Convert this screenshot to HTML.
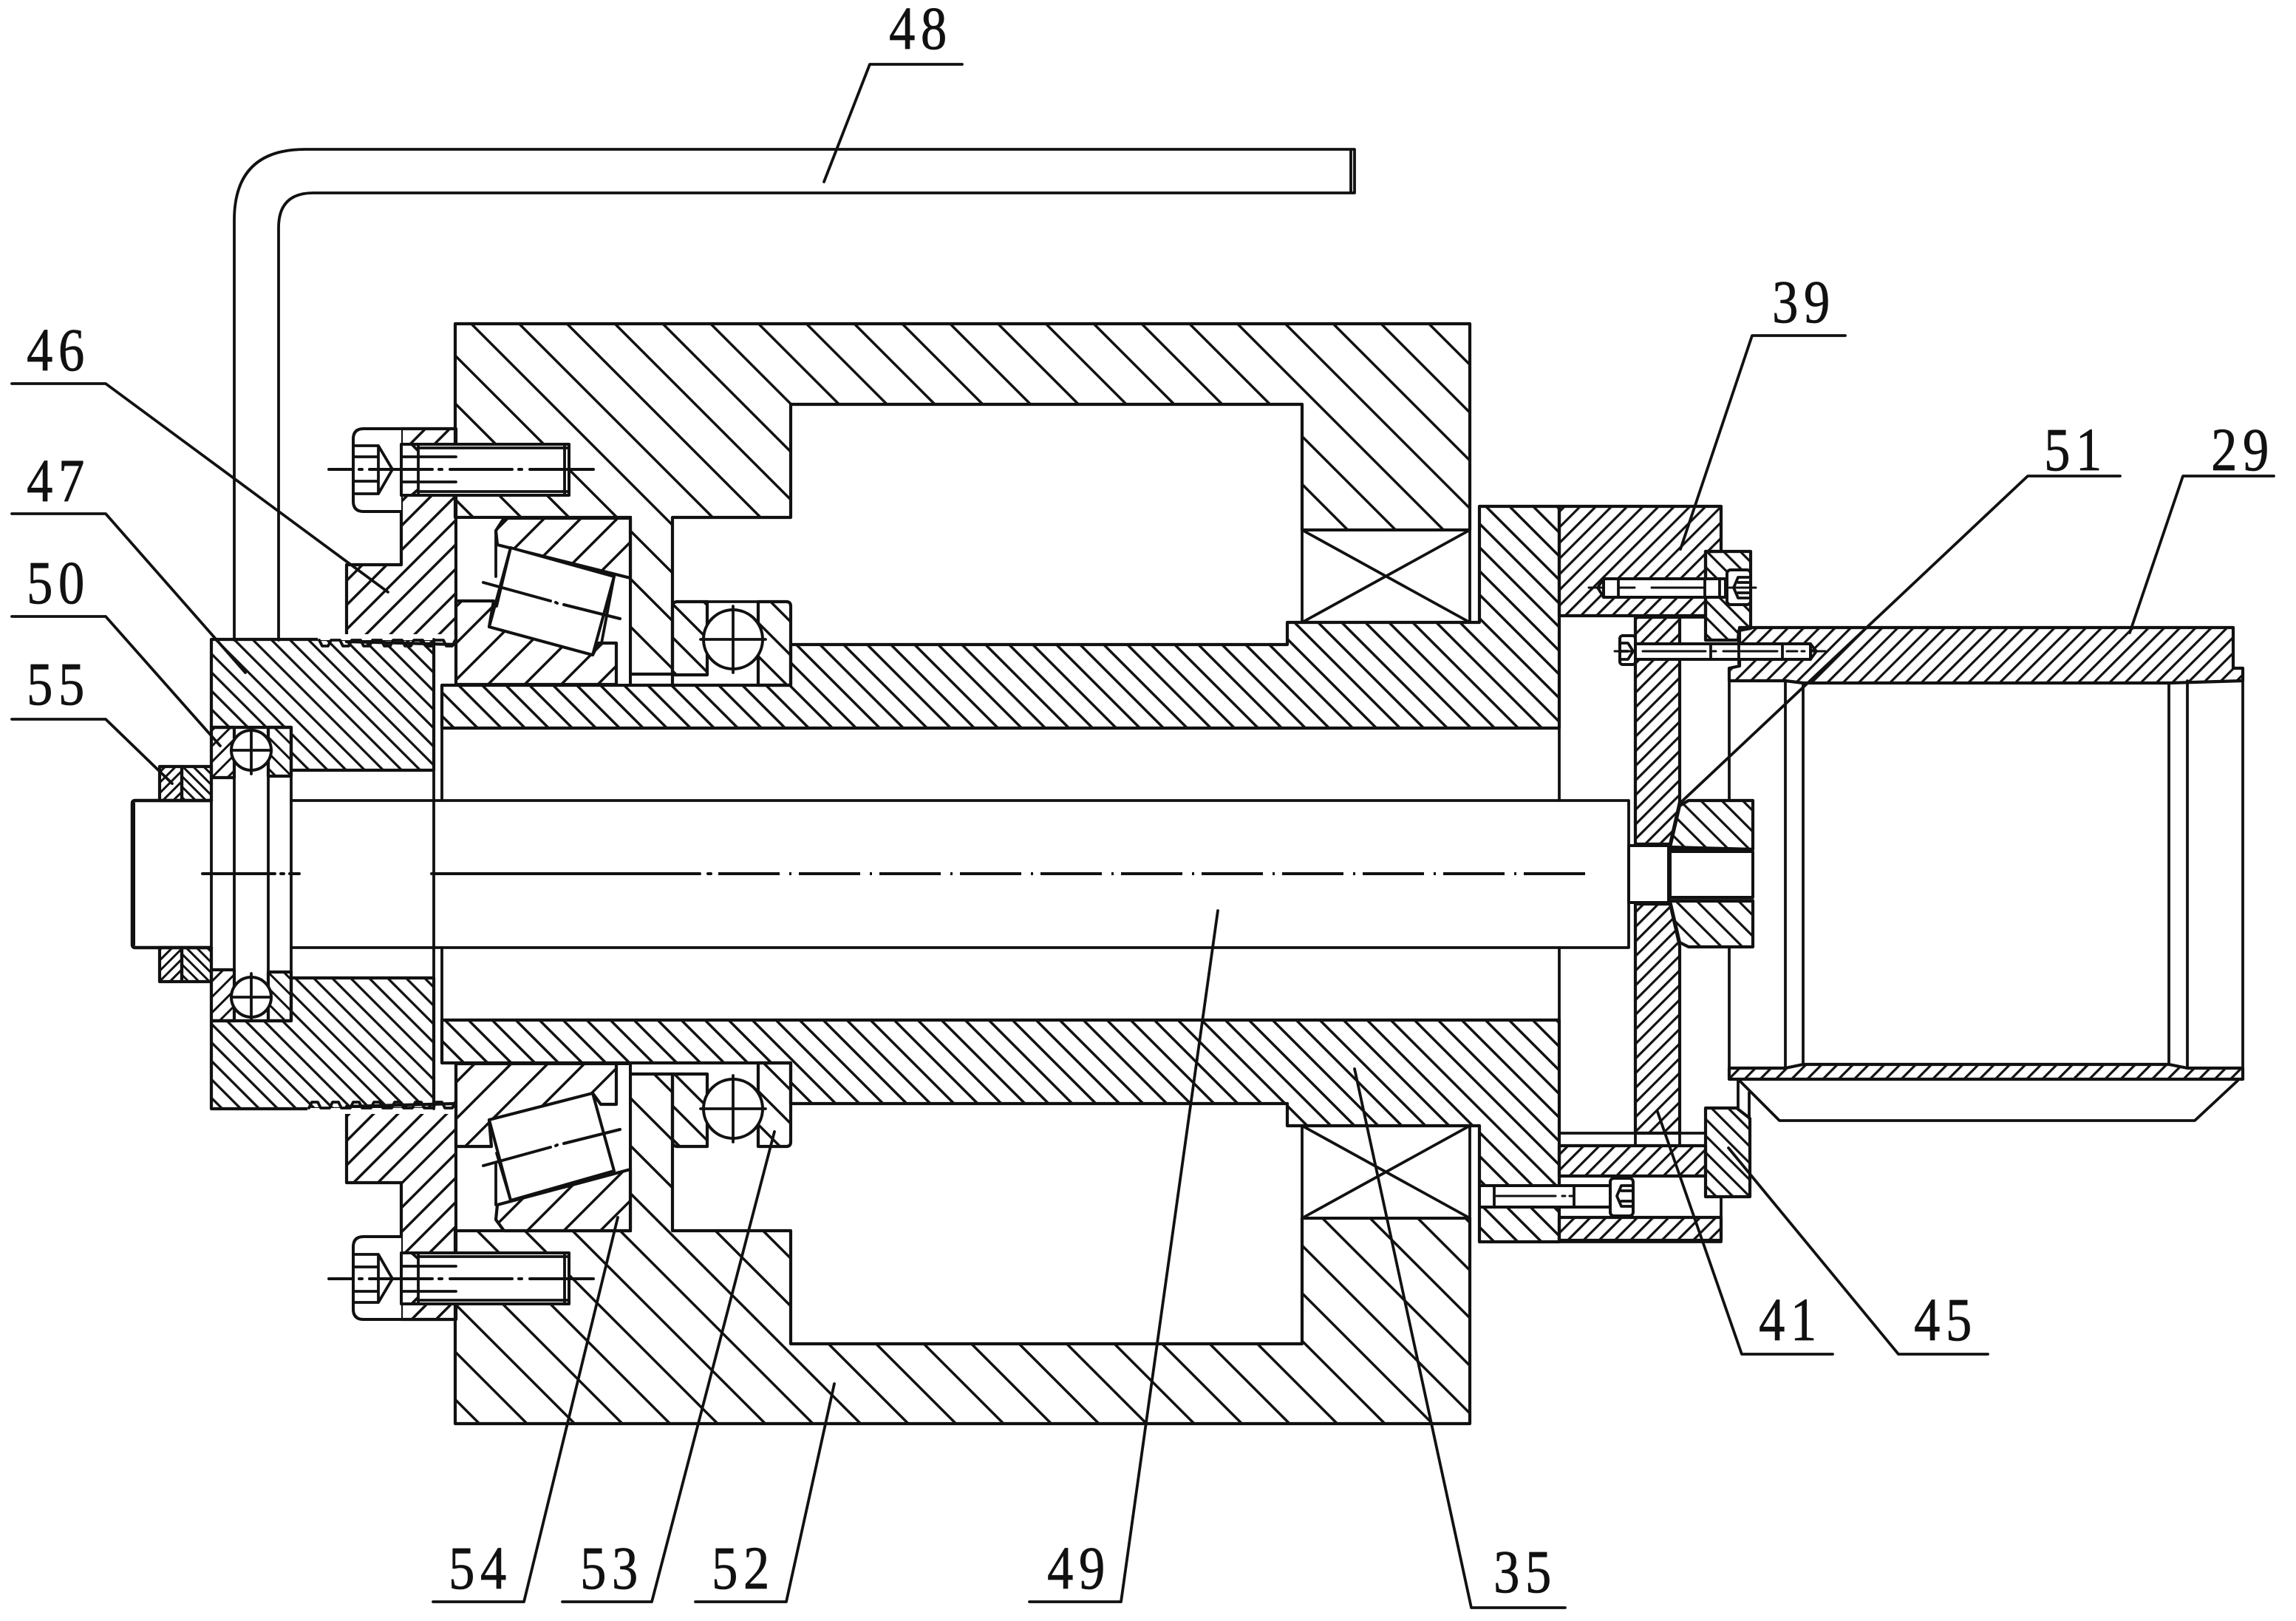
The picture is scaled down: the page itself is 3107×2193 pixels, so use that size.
<!DOCTYPE html>
<html><head><meta charset="utf-8"><style>
html,body{margin:0;padding:0;background:#fff;width:3107px;height:2193px;overflow:hidden}
svg{display:block}
text{font-family:"Liberation Serif",serif;font-size:83px;fill:#111;stroke:#111;stroke-width:.8;text-anchor:middle;letter-spacing:9px}
.o{stroke:#111;stroke-width:4.2;stroke-linejoin:round;stroke-linecap:round}
.l{fill:none;stroke:#111;stroke-width:3.8;stroke-linecap:round;stroke-linejoin:round}
.t{fill:none;stroke:#111;stroke-width:3;stroke-linecap:round}
.w{fill:#fff;stroke:#111;stroke-width:4;stroke-linejoin:round}
</style></head><body>
<svg width="3107" height="2193" viewBox="0 0 3107 2193" xmlns="http://www.w3.org/2000/svg">
<defs>
<pattern id="H" patternUnits="userSpaceOnUse" width="45.82" height="46" patternTransform="translate(2.8,0) rotate(-45)"><line x1="0" y1="0" x2="0" y2="46" stroke="#111" stroke-width="7"/></pattern>
<pattern id="HL" patternUnits="userSpaceOnUse" width="45.6" height="46" patternTransform="translate(10,0) rotate(-45)"><line x1="0" y1="0" x2="0" y2="46" stroke="#111" stroke-width="7"/></pattern>
<pattern id="S" patternUnits="userSpaceOnUse" width="22.63" height="46" patternTransform="translate(11,0) rotate(-45)"><line x1="0" y1="0" x2="0" y2="46" stroke="#111" stroke-width="7"/></pattern>
<pattern id="SL" patternUnits="userSpaceOnUse" width="22.63" height="46" patternTransform="translate(19.5,0) rotate(-45)"><line x1="0" y1="0" x2="0" y2="46" stroke="#111" stroke-width="7"/></pattern>
<pattern id="C" patternUnits="userSpaceOnUse" width="17.7" height="40" patternTransform="rotate(-45)"><line x1="0" y1="0" x2="0" y2="40" stroke="#111" stroke-width="6.6"/></pattern>
<pattern id="N" patternUnits="userSpaceOnUse" width="23.3" height="46" patternTransform="rotate(45)"><line x1="0" y1="0" x2="0" y2="46" stroke="#111" stroke-width="7"/></pattern>
<pattern id="T" patternUnits="userSpaceOnUse" width="35" height="46" patternTransform="rotate(45)"><line x1="0" y1="0" x2="0" y2="46" stroke="#111" stroke-width="7"/></pattern>
<pattern id="F" patternUnits="userSpaceOnUse" width="15" height="40" patternTransform="rotate(45)"><line x1="0" y1="0" x2="0" y2="40" stroke="#111" stroke-width="6.4"/></pattern>
<pattern id="Fb" patternUnits="userSpaceOnUse" width="16" height="40" patternTransform="rotate(-45)"><line x1="0" y1="0" x2="0" y2="40" stroke="#111" stroke-width="6.4"/></pattern>
<pattern id="P" patternUnits="userSpaceOnUse" width="14" height="40" patternTransform="rotate(45)"><line x1="0" y1="0" x2="0" y2="40" stroke="#111" stroke-width="6.4"/></pattern>
<pattern id="K" patternUnits="userSpaceOnUse" width="20" height="40" patternTransform="rotate(-45)"><line x1="0" y1="0" x2="0" y2="40" stroke="#111" stroke-width="6.4"/></pattern>
<pattern id="R" patternUnits="userSpaceOnUse" width="32" height="46" patternTransform="rotate(-45)"><line x1="0" y1="0" x2="0" y2="46" stroke="#111" stroke-width="7"/></pattern>
<pattern id="A" patternUnits="userSpaceOnUse" width="10" height="30" patternTransform="rotate(45)"><line x1="0" y1="0" x2="0" y2="30" stroke="#111" stroke-width="6"/></pattern>
<pattern id="B" patternUnits="userSpaceOnUse" width="10" height="30" patternTransform="rotate(-45)"><line x1="0" y1="0" x2="0" y2="30" stroke="#111" stroke-width="6"/></pattern>
<pattern id="Q" patternUnits="userSpaceOnUse" width="15" height="30" patternTransform="rotate(45)"><line x1="0" y1="0" x2="0" y2="30" stroke="#111" stroke-width="6"/></pattern>
<pattern id="Qb" patternUnits="userSpaceOnUse" width="15" height="30" patternTransform="rotate(-45)"><line x1="0" y1="0" x2="0" y2="30" stroke="#111" stroke-width="6"/></pattern>
<g id="bolt">
<path class="w" d="M543 580H492Q478 580 478 594V678Q478 692 492 692H543"/>
<path class="l" d="M478 603H512L531 635L512 668H478M512 603V668M478 618H512M478 651H512"/>
<rect class="w" x="543" y="601" width="227" height="69"/>
<path class="l" d="M558 602L566 610V662L558 669M566 606H768M566 665H768M764 602V669M543 618H617M543 652H617M566 602V669"/>
<path class="t" d="M445 635H478M500 635H585M594 635H598M609 635H693M702 635H706M717 635H803M486 635H490" style="stroke-width:4"/>
</g>
</defs>

<!-- pipe 48 -->
<path class="l" d="M317 866V298Q317 202 413 202H1833M377 866V308Q377 261 424 261H1833M1833 202V261M1828 204V259"/>

<!-- housings -->
<polygon class="o" fill="url(#H)" points="616,438 1989,438 1989,717 1762,717 1762,547 1070,547 1070,700 910,700 910,912 853,912 853,700 616,700"/>
<polygon class="o" fill="url(#HL)" points="616,1926 1989,1926 1989,1648 1762,1648 1762,1818 1070,1818 1070,1665 910,1665 910,1453 853,1453 853,1665 616,1665"/>

<!-- X bearings -->
<rect x="1764" y="719" width="223" height="121" fill="#fff"/>
<path class="l" d="M1762 717H1989V842H1762ZM1762 717L1989 842M1762 842L1989 717"/>
<rect x="1764" y="1525" width="223" height="121" fill="#fff"/>
<path class="l" d="M1762 1523H1989V1648H1762ZM1762 1523L1989 1648M1762 1648L1989 1523"/>

<!-- sleeve 35 -->
<polygon class="o" fill="url(#S)" points="598,927 1070,927 1070,872 1742,872 1742,842 2002,842 2002,685 2110,685 2110,985 598,985"/>
<polygon class="o" fill="url(#SL)" points="598,1438 1070,1438 1070,1493 1742,1493 1742,1523 2002,1523 2002,1680 2110,1680 2110,1380 598,1380"/>

<!-- nuts 46 -->
<polygon class="o" fill="url(#N)" points="543,580 617,580 617,872 469,868 469,764 543,764"/>
<polygon class="o" fill="url(#N)" points="543,1785 617,1785 617,1493 469,1497 469,1600 543,1600"/>

<!-- collar 47 -->
<polygon class="o" fill="url(#C)" points="286,865 587,865 587,1042 394,1042 394,984 286,984"/>
<polygon class="o" fill="url(#C)" points="286,1500 587,1500 587,1323 394,1323 394,1381 286,1381"/>
<rect x="430" y="858" width="190" height="8" fill="#fff"/>
<rect x="416" y="1499" width="204" height="8" fill="#fff"/>
<path class="l" d="M432 866L436 874H444L448 866H460L464 874H472L476 866H488L492 874H500L504 866H516L520 874H528L532 866H544L548 874H556L560 866H572L576 874H584L588 866H600L604 874H612L616 866"/>
<path class="l" d="M418 1499L422 1491H430L434 1499H446L450 1491H458L462 1499H474L478 1491H486L490 1499H502L506 1491H514L518 1499H530L534 1491H542L546 1499H558L562 1491H570L574 1499H586L590 1491H598L602 1499H612L616 1491"/>

<!-- taper bearing upper -->
<rect x="617" y="700" width="236" height="227" fill="#fff" stroke="#111" stroke-width="4"/>
<polygon class="o" fill="url(#T)" points="682,701 853,701 853,782 673,737 671,718"/>
<polygon class="o" fill="url(#T)" points="617,926 834,926 834,870 810,870 802,886 662,848 668,813 617,813"/>
<polygon class="w" points="691,741 831,780 802,886 662,848"/>
<path class="l" d="M671 718V780M831 780L814 870M691 741L672 820M853 700V926"/>
<path class="t" style="stroke-width:4" d="M654 788L745 813M752 815L754 816M763 818L839 837"/>

<!-- taper bearing lower -->
<rect x="617" y="1439" width="236" height="226" fill="#fff" stroke="#111" stroke-width="4"/>
<polygon class="o" fill="url(#T)" points="682,1665 853,1665 853,1582 673,1630 671,1650"/>
<polygon class="o" fill="url(#T)" points="617,1439 834,1439 834,1494 813,1494 802,1479 662,1515 665,1551 617,1551"/>
<polygon class="w" points="691,1624 831,1584 802,1479 662,1515"/>
<path class="l" d="M671 1630V1575M853 1439V1665M691 1624L672 1560"/>
<path class="t" style="stroke-width:4" d="M654 1577L745 1552M752 1550L754 1549M763 1547L839 1528"/>

<!-- mid ball bearing upper -->
<path class="o" fill="url(#R)" d="M910 927V821Q910 814 917 814H957V913H910"/>
<path class="o" fill="url(#R)" d="M1026 814H1064Q1070 814 1070 820V927H1026Z"/>
<path class="l" d="M957 814H1026M957 927H1026M853 912H910M853 927H1070"/>
<circle class="w" cx="992" cy="865" r="40"/>
<path class="l" d="M992 820V910M948 865H1036"/>
<!-- mid ball bearing lower -->
<path class="o" fill="url(#R)" d="M910 1453H957V1551H917Q910 1551 910 1544Z"/>
<path class="o" fill="url(#R)" d="M1026 1438H1070V1545Q1070 1551 1064 1551H1026Z"/>
<path class="l" d="M957 1438H1026M853 1453H910M853 1438H1070"/>
<circle class="w" cx="992" cy="1500" r="40"/>
<path class="l" d="M992 1455V1545M948 1500H1036"/>

<!-- left small bearing -->
<rect class="o" fill="url(#Q)" x="286" y="984" width="31" height="68"/>
<rect class="o" fill="url(#Qb)" x="363" y="984" width="31" height="66"/>
<rect class="o" fill="url(#Q)" x="286" y="1312" width="31" height="69"/>
<rect class="o" fill="url(#Qb)" x="363" y="1315" width="31" height="66"/>
<path class="l" d="M286 984V1381M394 984V1381M317 984V1381M363 984V1381M286 984H394M286 1381H394"/>
<circle class="w" cx="340" cy="1015" r="27"/>
<circle class="w" cx="340" cy="1349" r="27"/>
<path class="l" d="M340 985V1047M313 1015H367M340 1317V1381M313 1349H367"/>

<!-- nut 55 -->
<rect class="o" fill="url(#A)" x="216" y="1037" width="30" height="46"/>
<rect class="o" fill="url(#B)" x="246" y="1037" width="40" height="46"/>
<rect class="o" fill="url(#A)" x="216" y="1282" width="30" height="46"/>
<rect class="o" fill="url(#B)" x="246" y="1282" width="40" height="46"/>

<!-- shaft -->
<path class="l" d="M286 1083H183Q179 1083 179 1087V1278Q179 1282 183 1282H286" style="stroke-width:4.5"/>
<path class="l" d="M180 1087V1278" style="stroke-width:6"/>
<path class="l" d="M394 1083H2204V1282H394M2204 1083V1282"/>
<path class="l" d="M587 865V1500M598 927V1083M598 1282V1438M394 1042H587M394 1323H587"/>
<path class="t" style="stroke-width:4" d="M274 1182H372M380 1182H384M392 1182H405M584 1182H947M958 1182H962"/>
<line x1="972" y1="1182" x2="2149" y2="1182" stroke="#111" stroke-width="4" stroke-dasharray="83 13 3 10"/>

<!-- upper bolts -->
<use href="#bolt"/>
<use href="#bolt" transform="matrix(1,0,0,-1,0,2365)"/>

<!-- right side -->
<path class="l" d="M2110 685V1083M2110 1282V1533"/>
<polygon class="o" fill="url(#F)" points="2110,685 2329,685 2329,746 2308,746 2308,833 2110,833"/>
<polygon class="o" fill="url(#Fb)" points="2308,746 2369,746 2369,850 2353,853 2352,866 2308,866"/>
<polygon class="o" fill="url(#P)" points="2213,835 2273,835 2273,1085 2260,1142 2213,1142"/>
<polygon class="o" fill="url(#P)" points="2213,1223 2260,1223 2273,1280 2273,1533 2213,1533"/>
<path class="l" d="M2273 835H2308"/>

<!-- drum 29 -->
<polygon class="o" fill="url(#F)" points="2354,849 3022,849 3022,904 3035,904 3035,921 2935,924 2440,924 2416,921 2340,921 2340,904 2354,901"/>
<polygon class="o" fill="url(#F)" points="2340,1445 2416,1445 2440,1440 2935,1440 2960,1445 3035,1445 3035,1460 2340,1460"/>
<path class="l" d="M2340 921V1083M2340 1282V1445M2416 921V1445M2440 924V1440M2935 924V1440M2960 921V1445M3035 921V1445"/>
<path class="l" d="M2354 1462L2408 1516H2970L3028 1462M2352 1462V1499M2367 1478V1513"/>

<!-- cone 51 -->
<polygon class="o" fill="url(#K)" points="2260,1146 2273,1090 2285,1083 2372,1083 2372,1149"/>
<polygon class="o" fill="url(#K)" points="2260,1219 2273,1275 2285,1281 2372,1281 2372,1219"/>
<rect class="w" x="2204" y="1144" width="54" height="77"/>
<rect class="w" x="2260" y="1152" width="112" height="62"/>
<path class="l" d="M2260 1149H2372M2260 1218H2372"/>

<!-- lower bracket -->
<polygon class="o" fill="url(#F)" points="2110,1550 2308,1550 2308,1591 2110,1591"/>
<polygon class="o" fill="url(#F)" points="2110,1647 2329,1647 2329,1678 2110,1678"/>
<path class="l" d="M2329 1620V1678M2110 1533H2308M2213 1533V1550M2273 1533V1550M2110 1680H2329"/>
<polygon class="o" fill="url(#Fb)" points="2308,1499 2350,1499 2368,1513 2368,1619 2308,1619"/>

<!-- right bolts -->
<rect class="w" x="2170" y="783" width="165" height="25"/>
<path class="l" d="M2170 783L2162 795L2170 808M2190 783V808M2307 783V808M2327 783V808"/>
<rect class="w" x="2337" y="771" width="32" height="47" rx="5"/>
<path class="l" d="M2369 781H2352L2346 795L2352 809H2369M2352 788H2369M2352 802H2369"/>
<path class="t" d="M2150 795H2170M2190 795H2212M2235 795H2307M2340 795H2376"/>

<rect class="w" x="2213" y="871" width="237" height="21"/>
<path class="l" d="M2450 871L2458 881L2450 892M2315 871V892M2353 865V898M2412 871V892"/>
<rect class="w" x="2192" y="860" width="21" height="39" rx="4"/>
<path class="l" d="M2192 870H2203L2210 881L2203 892H2192M2192 881H2203"/>
<path class="t" d="M2185 881H2210M2223 881H2308M2318 881H2322M2332 881H2350M2356 881H2405M2418 881H2432M2438 881H2442M2450 881H2470"/>

<rect class="w" x="2002" y="1604" width="177" height="29"/>
<path class="l" d="M2022 1604V1633M2130 1604V1633"/>
<rect class="w" x="2179" y="1594" width="31" height="51" rx="5"/>
<path class="l" d="M2210 1604H2194L2188 1618L2194 1632H2210M2194 1611H2210M2194 1625H2210"/>
<path class="t" d="M2025 1618H2105M2114 1618H2118M2124 1618H2130"/>
<path class="l" d="M2002 1523V1680"/>

<!-- leaders -->
<path class="l" d="M1302 87H1177L1115 246"/>
<path class="l" d="M2497 454H2371L2274 743"/>
<path class="l" d="M2869 644H2744L2274 1086"/>
<path class="l" d="M3077 644H2954L2882 856"/>
<path class="l" d="M16 519H143L525 801"/>
<path class="l" d="M16 695H143L332 910"/>
<path class="l" d="M16 834H143L298 1009"/>
<path class="l" d="M16 973H143L233 1060"/>
<path class="l" d="M586 2167H709L836 1647"/>
<path class="l" d="M761 2167H882L1048 1531"/>
<path class="l" d="M941 2167H1064L1129 1872"/>
<path class="l" d="M1393 2167H1517L1648 1232"/>
<path class="l" d="M2118 2175H1991L1833 1446"/>
<path class="l" d="M2480 1832H2357L2243 1504"/>
<path class="l" d="M2690 1832H2569L2339 1553"/>

<!-- labels -->
<text transform="translate(1246,66) scale(.85,1)">48</text>
<text transform="translate(2441,436) scale(.85,1)">39</text>
<text transform="translate(2809,636) scale(.85,1)">51</text>
<text transform="translate(3035,636) scale(.85,1)">29</text>
<text transform="translate(79,501) scale(.85,1)">46</text>
<text transform="translate(79,678) scale(.85,1)">47</text>
<text transform="translate(79,816) scale(.85,1)">50</text>
<text transform="translate(79,953) scale(.85,1)">55</text>
<text transform="translate(650,2149) scale(.85,1)">54</text>
<text transform="translate(828,2149) scale(.85,1)">53</text>
<text transform="translate(1006,2149) scale(.85,1)">52</text>
<text transform="translate(1460,2149) scale(.85,1)">49</text>
<text transform="translate(2064,2154) scale(.85,1)">35</text>
<text transform="translate(2423,1813) scale(.85,1)">41</text>
<text transform="translate(2633,1813) scale(.85,1)">45</text>
</svg>
</body></html>
